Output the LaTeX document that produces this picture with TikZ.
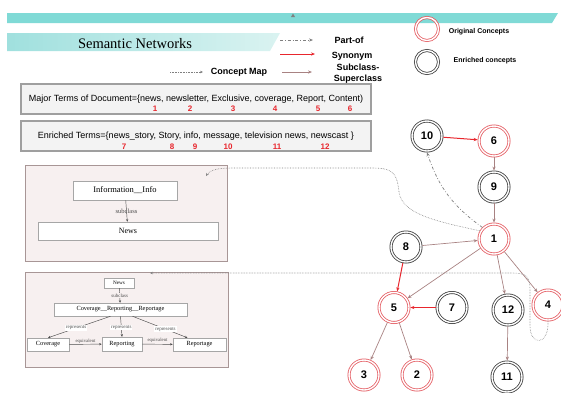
\documentclass[tikz,border=0pt]{standalone}
\usepackage{fontspec}
\setmainfont{Liberation Sans}
\newfontfamily\timesfont{Liberation Serif}
\usetikzlibrary{arrows.meta}

\definecolor{barteal}{RGB}{128,218,214}
\definecolor{lightteal}{RGB}{160,224,222}
\definecolor{paleteal}{RGB}{218,243,241}
\definecolor{subcol}{RGB}{168,130,130}
\definecolor{syncol}{RGB}{232,38,45}
\definecolor{origcol}{RGB}{228,92,98}
\definecolor{enrcol}{RGB}{60,60,60}
\definecolor{mapfill}{RGB}{247,240,240}
\definecolor{mapdraw}{RGB}{168,150,150}
\definecolor{termfill}{RGB}{243,243,243}

\begin{document}
\begin{tikzpicture}[
	>={Stealth[length=4pt,width=3.2pt]},
	line width=0.7pt,
	x=1pt,y=-1pt,
	font=\fontsize{9}{10}\selectfont,
	orig/.style={circle, draw=origcol, double=white, double distance=1.4pt, line width=0.8pt, minimum size=30pt, inner sep=0pt, outer sep=1.4pt, font=\fontsize{11}{11}\selectfont\bfseries},
	enr/.style={orig, draw=enrcol},
	sub/.style={->, subcol},
	syn/.style={->, draw=syncol, line width=1pt},
	partof/.style={->, gray, dash dot},
	cmap/.style={->, >={Stealth[length=3pt,width=2.6pt]}, gray, densely dotted, line width=0.6pt},
	terms/.style={draw=gray!75, line width=1.5pt, fill=termfill, minimum width=350pt, minimum height=30pt, inner sep=0pt},
	num/.style={text=syncol, font=\fontsize{8}{8}\selectfont\bfseries, inner sep=0pt},
	legend/.style={font=\fontsize{9}{11}\selectfont\bfseries, align=center, inner sep=0pt},
	mapbox/.style={draw=mapdraw, fill=mapfill, line width=0.8pt},
	cbox/.style={draw=gray!70, fill=white, line width=0.5pt, inner sep=0pt, font=\timesfont\fontsize{6.3}{7}\selectfont},
	rel/.style={font=\timesfont\fontsize{5}{5}\selectfont, inner sep=1pt},
	small/.style={->, >={Stealth[length=2.6pt,width=2.2pt]}, line width=0.45pt, black!70}
	]
\useasboundingbox (0,0) rectangle (561,392);

% banner
\fill[barteal] (7,13) -- (558,13) -- (552,23) -- (7,23) -- cycle;
\fill[gray] (291,17) -- (295,17) -- (293,13.5) -- cycle;
\shade[left color=lightteal, right color=paleteal] (7,33) -- (280,33) -- (270,51) -- (7,51) -- cycle;
\node[font=\timesfont\fontsize{14.5}{15}\selectfont] (title) at (135,44) {Semantic Networks};

% legend
\coordinate (lg_partof_a) at (280,40);
\coordinate (lg_partof_b) at (313,40);
\coordinate (lg_syn_a) at (280,54);
\coordinate (lg_syn_b) at (315,54);
\coordinate (lg_map_a) at (170,72);
\coordinate (lg_map_b) at (203,72);
\coordinate (lg_sub_a) at (282,72);
\coordinate (lg_sub_b) at (312,72);
\draw[partof] (lg_partof_a) -- (lg_partof_b);
\draw[syn] (lg_syn_a) -- (lg_syn_b);
\draw[cmap] (lg_map_a) -- (lg_map_b);
\draw[sub] (lg_sub_a) -- (lg_sub_b);
\node[legend] (lg_partof) at (349,40) {Part-of};
\node[legend] (lg_syn) at (352,56) {Synonym};
\node[legend] (lg_map) at (239,72) {Concept Map};
\node[legend] (lg_sub) at (358,73.5) {Subclass-\\Superclass};

\node[orig, minimum size=23pt] (lg_orig) at (427,29) {};
\node[enr, minimum size=23pt] (lg_enr) at (427,62) {};
\node[legend, font=\fontsize{7}{7}\selectfont\bfseries] (lg_orig_t) at (479,32) {Original Concepts};
\node[legend, font=\fontsize{7}{7}\selectfont\bfseries] (lg_enr_t) at (485,61) {Enriched concepts};

% term boxes
\node[terms] (major) at (196,99) {Major Terms of Document=\{news, newsletter, Exclusive, coverage, Report, Content)};
\node[terms] (enriched) at (196,136) {Enriched Terms=\{news\_story, Story, info, message, television news, newscast \}};
\foreach \n/\x in {1/155,2/190,3/233,4/275,5/318,6/350}
\node[num] (t\n) at (\x,109) {\n};
\foreach \n/\x in {7/124,8/172,9/195,10/228,11/277,12/325}
\node[num] (t\n) at (\x,147) {\n};

% concept map boxes
\draw[mapbox] (25,165) rectangle (227,261);
\draw[mapbox] (25,272) rectangle (228,367);

\node[cbox, minimum width=104pt, minimum height=19pt, font=\timesfont\fontsize{8.5}{9}\selectfont] (info_125_190) at (125,190.5) {Information\_\_Info};
\node[cbox, minimum width=180pt, minimum height=18pt, font=\timesfont\fontsize{8}{9}\selectfont] (news_128_231) at (128,231) {News};
\draw[small] (info_125_190) -- node[rel, font=\timesfont\fontsize{6.5}{7}\selectfont] {subclass} (news_128_231);

\node[cbox, minimum width=30pt, minimum height=10pt, font=\timesfont\fontsize{5.2}{6}\selectfont] (news_119_283) at (119,283) {News};
\node[cbox, minimum width=133pt, minimum height=13pt] (crr_120_309) at (120.5,309.5) {Coverage\_\_Reporting\_\_Reportage};
\node[cbox, minimum width=42pt, minimum height=13pt] (cov_48_344) at (48,344.5) {Coverage};
\node[cbox, minimum width=40pt, minimum height=14pt] (rep_122_344) at (122,344) {Reporting};
\node[cbox, minimum width=53pt, minimum height=13pt] (rpt_199_344) at (199.5,344.5) {Reportage};

\draw[small] (news_119_283) -- node[rel, fill=mapfill] {subclass} (crr_120_309);
\draw[small] ([xshift=-10pt]crr_120_309.south) -- node[rel, fill=white, pos=0.55] {represents} (cov_48_344.north);
\draw[small] (crr_120_309.south) -- node[rel, fill=white, pos=0.55] {represents} (rep_122_344.north);
\draw[small] ([xshift=12pt]crr_120_309.south) -- node[rel, fill=white, pos=0.6] {represents} ([xshift=-12pt]rpt_199_344.north);
\draw[small] (cov_48_344) -- node[rel, above, font=\timesfont\fontsize{4.8}{5}\selectfont] {equivalent} (rep_122_344);
\draw[small] (rep_122_344) -- node[rel, above, font=\timesfont\fontsize{4.8}{5}\selectfont] {equivalent} (rpt_199_344);

% semantic network
\node[enr]  (c10_427_136) at (427,136) {10};
\node[orig] (c6_494_141)  at (494,141) {6};
\node[enr]  (c9_494_187)  at (494,187) {9};
\node[orig] (c1_494_239)  at (494,239) {1};
\node[enr]  (c8_406_247)  at (406,247) {8};
\node[orig] (c5_394_307)  at (394,307.5) {5};
\node[enr]  (c7_452_307)  at (452,307.5) {7};
\node[enr]  (c12_508_310) at (508,310) {12};
\node[orig] (c4_548_305)  at (548,305) {4};
\node[orig] (c3_364_375)  at (364,375) {3};
\node[orig] (c2_417_375)  at (417,375) {2};
\node[enr]  (c11_507_377) at (507,377) {11};

\draw[syn] (c10_427_136) -- (c6_494_141);
\draw[sub] (c6_494_141) -- (c9_494_187);
\draw[sub] (c9_494_187) -- (c1_494_239);
\draw[partof] (c1_494_239.135) to[bend left=18] (c10_427_136.south);
\draw[sub] (c8_406_247) -- (c1_494_239);
\draw[syn] (c8_406_247) -- (c5_394_307);
\draw[sub] (c1_494_239) -- (c5_394_307);
\draw[sub] (c1_494_239) -- (c12_508_310);
\draw[sub] (c1_494_239) -- (c4_548_305);
\draw[syn] (c7_452_307.west) -- (c5_394_307.east);
\draw[sub] (c5_394_307) -- (c3_364_375);
\draw[sub] (c5_394_307) -- (c2_417_375);
\draw[sub] (c12_508_310) -- (c11_507_377);

% concept map links
\coordinate (cm_top) at (206,176);
\coordinate (cm_bottom) at (150,273);
\draw[cmap] (c1_494_239.150) .. controls (440,222) and (402,215) .. (399,192)
	.. controls (397,172) and (392,168) .. (372,168) -- (232,168)
	.. controls (218,168) and (210,170) .. (cm_top);
\draw[cmap] (c4_548_305.south) .. controls (549,346) and (530,346) .. (530,326)
	-- (530,290) .. controls (530,276) and (526,273) .. (512,273) -- (cm_bottom);

\end{tikzpicture}
\end{document}
